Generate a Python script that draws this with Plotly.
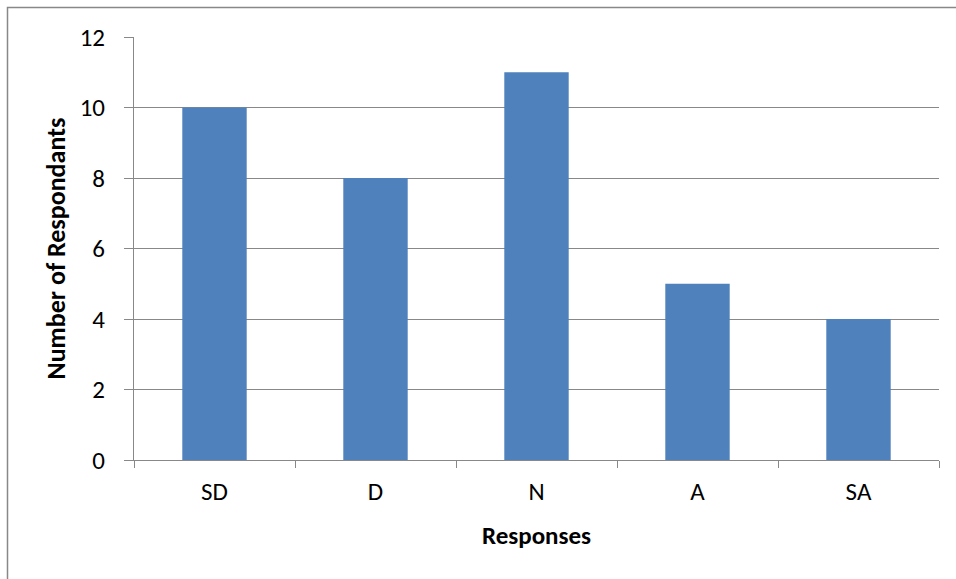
import plotly.graph_objects as go

categories = ["SD", "D", "N", "A", "SA"]
respondents = [10, 8, 11, 5, 4]
y_ticks = [0, 2, 4, 6, 8, 10, 12]

W, H = 956, 579
L, R, T, B = 134, 17, 37, 119
pw, ph = W - L - R, H - T - B

def px_x(x):
    return (x - L) / pw

def px_y(y):
    return 1 - (y - T) / ph

fig = go.Figure(go.Bar(
    x=categories, y=respondents,
    marker=dict(color="#4F81BD", line=dict(width=0)),
    width=0.4,
))

axis_grey = "#888888"
font_family = "Carlito, Calibri, 'Open Sans', sans-serif"

fig.update_layout(
    width=W, height=H,
    margin=dict(l=L, r=R, t=T, b=B),
    paper_bgcolor="white", plot_bgcolor="white",
    showlegend=False,
    font=dict(family=font_family, size=25, color="#000000"),
    xaxis=dict(
        type="category",
        tickson="boundaries",
        ticks="outside", ticklen=7, tickcolor=axis_grey, tickwidth=1,
        showline=True, linecolor=axis_grey, linewidth=1,
        showgrid=False,
        tickfont=dict(size=25),
        ticklabelstandoff=9,
        title=dict(text="<b>Responses</b>", font=dict(size=25), standoff=20),
    ),
    yaxis=dict(
        range=[0, 12],
        tickvals=y_ticks,
        ticks="outside", ticklen=9, tickcolor=axis_grey, tickwidth=1,
        ticklabelstandoff=14,
        showline=True, linecolor=axis_grey, linewidth=1,
        showgrid=True, gridcolor=axis_grey, gridwidth=1,
        zeroline=False,
        tickfont=dict(size=25),
        title=dict(text="<b>Number of Respondants</b>", font=dict(size=26), standoff=6),
    ),
    shapes=[dict(
        type="rect", xref="paper", yref="paper",
        x0=px_x(7.5), x1=px_x(W + 5), y0=px_y(7.5), y1=px_y(H + 5),
        line=dict(color=axis_grey, width=1.5), fillcolor="rgba(0,0,0,0)",
        layer="below",
    )],
)

fig.write_html("out.html")
